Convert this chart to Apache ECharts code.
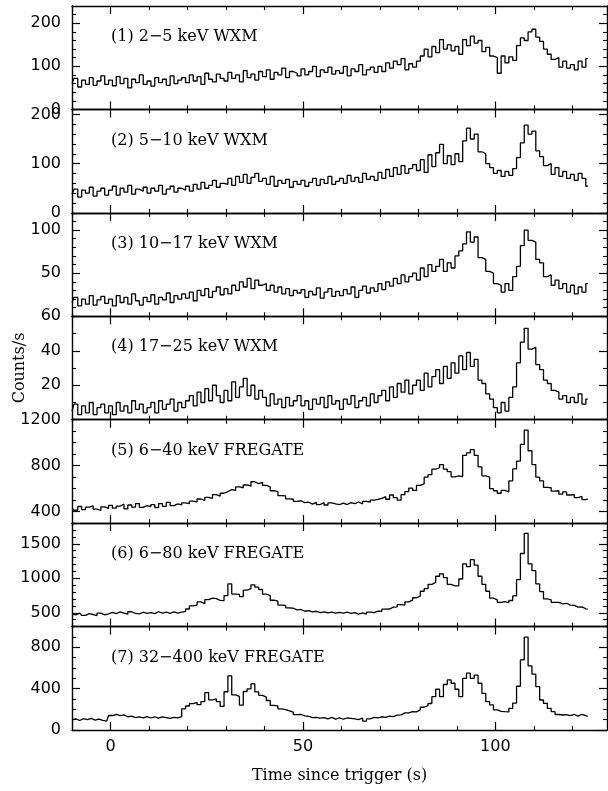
<!DOCTYPE html>
<html>
<head>
<meta charset="utf-8">
<script src="https://cdn.jsdelivr.net/npm/echarts@6/dist/echarts.min.js"></script>
<style>html,body{margin:0;padding:0;background:#fff}#c{width:608px;height:791px}</style>
</head>
<body>
<div id="c"></div>
<script>
// ---- data (1 s bins starting at t = -10 s) ----
const timeStart = -10;
const binWidth = 1;

const panelLabels = ['(1) 2\u22125 keV WXM', '(2) 5\u221210 keV WXM', '(3) 10\u221217 keV WXM', '(4) 17\u221225 keV WXM',
  '(5) 6\u221240 keV FREGATE', '(6) 6\u221280 keV FREGATE', '(7) 32\u2212400 keV FREGATE'];

const wxm2to5 = [
  60, 72, 52, 68, 58, 74, 56, 66, 78, 58,
  68, 55, 76, 60, 72, 50, 70, 62, 80, 58,
  66, 54, 74, 62, 70, 56, 78, 60, 68, 74,
  62, 80, 66, 76, 58, 84, 70, 64, 82, 72,
  66, 86, 72, 80, 64, 90, 74, 82, 68, 88,
  76, 92, 70, 86, 80, 96, 74, 88, 84, 78,
  94, 80, 88, 100, 76, 92, 86, 98, 82, 90,
  84, 100, 78, 94, 88, 104, 80, 92, 98, 86,
  100, 88, 108, 96, 112, 104, 118, 92, 106, 98,
  112, 124, 140, 122, 146, 132, 162, 140, 150, 136,
  146, 128, 162, 148, 170, 154, 160, 134, 144, 124,
  120, 84, 124, 108, 122, 114, 148, 166, 160, 180,
  186, 168, 158, 140, 128, 116, 120, 98, 112, 96,
  104, 92, 112, 98, 118
];
const wxm5to10 = [
  38, 48, 32, 46, 40, 52, 34, 44, 50, 36,
  46, 54, 36, 50, 42, 56, 38, 48, 44, 52,
  40, 50, 44, 56, 38, 48, 54, 42, 50, 46,
  54, 44, 58, 48, 62, 50, 56, 66, 52, 60,
  58, 70, 56, 74, 62, 78, 60, 72, 80, 64,
  70, 58, 74, 54, 66, 60, 68, 52, 64, 58,
  66, 54, 62, 70, 56, 68, 60, 74, 58, 64,
  70, 60, 76, 64, 72, 62, 80, 68, 74, 66,
  82, 70, 88, 74, 92, 78, 96, 80, 90, 98,
  86, 108, 82, 118, 94, 122, 139, 100, 116, 98,
  120, 104, 146, 172, 150, 160, 124, 120, 100, 92,
  80, 86, 74, 84, 76, 90, 112, 142, 178, 160,
  166, 126, 114, 96, 100, 78, 92, 74, 84, 70,
  78, 66, 80, 70, 54
];
const wxm10to17 = [
  16, 22, 12, 20, 14, 24, 13, 19, 23, 15,
  20, 12, 24, 16, 22, 14, 26, 18, 13, 22,
  17, 25, 14, 22, 19, 27, 16, 24, 20, 26,
  21, 28, 18, 30, 24, 32, 22, 29, 34, 25,
  32, 26, 36, 30, 40, 34, 44, 32, 42, 36,
  38, 30, 36, 28, 34, 26, 32, 24, 30, 27,
  31, 22, 29, 25, 33, 21, 28, 32, 23, 29,
  24, 31, 26, 34, 22, 30, 35, 27, 33, 29,
  38, 31, 40, 35, 44, 38, 48, 40, 46, 50,
  42, 56, 46, 60, 52, 58, 66, 52, 62, 56,
  70, 76, 84, 98, 86, 92, 68, 66, 52, 50,
  38, 36, 28, 38, 30, 46, 58, 82, 100, 88,
  86, 66, 62, 46, 48, 36, 42, 32, 38, 28,
  36, 26, 34, 28, 38
];
const wxm17to25 = [
  5, 9, 3, 8, 4, 10, 3, 7, 9, 4,
  8, 3, 10, 5, 8, 4, 11, 6, 9, 4,
  7, 10, 4, 11, 6, 9, 12, 5, 10, 7,
  11, 14, 8, 16, 10, 18, 11, 20, 14, 10,
  17, 11, 22, 13, 19, 24, 14, 20, 12, 17,
  13, 8, 15, 9, 12, 7, 13, 8, 11, 14,
  8, 11, 6, 12, 9, 13, 7, 14, 9, 11,
  6, 12, 9, 14, 7, 11, 13, 8, 15, 10,
  14, 17, 11, 19, 13, 21, 16, 23, 15, 20,
  23, 17, 27, 19, 25, 29, 21, 31, 24, 33,
  27, 37, 29, 39, 31, 35, 23, 21, 15, 12,
  7, 4, 10, 5, 13, 19, 33, 45, 53, 41,
  42, 32, 29, 23, 21, 17, 16, 12, 14, 10,
  13, 10, 15, 9, 12
];
const fregate6to40 = [
  430, 412, 445, 418, 440, 450, 422, 410, 442, 428,
  455, 430, 448, 465, 425, 458, 440, 470, 438, 452,
  444, 462, 436, 470, 446, 480, 452, 468, 458, 476,
  470, 492, 486, 510, 498, 525, 515, 548, 535, 560,
  575, 592, 585, 615, 608, 632, 622, 660, 644, 655,
  628, 615, 582, 575, 540, 538, 512, 508, 490, 495,
  478, 482, 465, 480, 462, 478, 458, 476, 468, 462,
  474, 462, 478, 470, 484, 468, 490, 482, 500, 506,
  515, 530, 508, 545, 522, 500, 548, 575, 605, 585,
  628, 642, 700, 722, 770, 782, 810, 770, 748, 702,
  712, 705, 890, 912, 940, 890, 790, 712, 700, 600,
  582, 560, 585, 572, 668, 772, 840, 985, 1110, 930,
  810, 700, 668, 612, 608, 578, 582, 552, 572, 545,
  548, 522, 532, 505, 512
];
const fregate6to80 = [
  482, 468, 495, 462, 488, 475, 460, 495, 470, 485,
  505, 488, 512, 494, 480, 515, 490, 485, 508, 492,
  502, 488, 515, 496, 508, 490, 514, 496, 510, 520,
  555, 600, 612, 658, 632, 690, 712, 705, 680, 676,
  750, 920, 772, 768, 735, 828, 850, 905, 872, 838,
  772, 748, 682, 668, 612, 606, 572, 566, 542, 548,
  522, 532, 512, 522, 502, 512, 498, 510, 496, 505,
  495, 508, 490, 502, 482, 498, 480, 510, 502, 525,
  522, 552, 555, 582, 585, 618, 612, 658, 684, 718,
  742, 812, 850, 912, 940, 1030, 1065, 1010, 912, 890,
  892, 990, 1210, 1170, 1270, 1190, 1030, 912, 812, 712,
  688, 652, 662, 648, 678, 745, 980, 1360, 1652, 1210,
  1110, 920, 808, 702, 688, 652, 650, 628, 638, 612,
  608, 582, 585, 558, 552
];
const fregate32to400 = [
  98, 108, 92, 110, 100, 112, 96, 106, 94, 86,
  140, 152, 138, 146, 128, 134, 120, 126, 118, 130,
  116, 128, 114, 126, 120, 112, 122, 118, 130, 205,
  232, 255, 268, 245, 275, 362, 292, 302, 275, 228,
  370, 523, 339, 325, 240, 372, 398, 445, 368, 335,
  318, 285, 238, 232, 205, 198, 185, 172, 148, 150,
  136, 132, 120, 122, 114, 120, 108, 122, 106, 118,
  104, 116, 112, 108, 100, 116, 85, 108, 122, 118,
  128, 122, 134, 130, 144, 146, 165, 166, 178, 176,
  194, 220, 236, 256, 322, 394, 322, 440, 484, 452,
  394, 322, 500, 549, 500, 530, 452, 355, 274, 242,
  194, 180, 177, 175, 210, 260, 423, 678, 897, 620,
  540, 420, 290, 258, 210, 177, 150, 145, 148, 140,
  150, 134, 152, 138, 132
];
const panelSeries = [wxm2to5, wxm5to10, wxm10to17, wxm17to25, fregate6to40, fregate6to80, fregate32to400];

// axis ranges and tick labels
const xMin = -10, xMax = 129;
const xMajorTicks = [0, 50, 100];
const xMinorStep = 10;
const yMins = [0, 0, 0, 0, 300, 300, 0];
const yMaxs = [240, 210, 120, 60, 1200, 1800, 1000];
const yMajorTicks = [[0, 100, 200], [0, 100, 200], [50, 100], [20, 40, 60], [400, 800, 1200], [500, 1000, 1500], [0, 400, 800]];
const yMinorSteps = [20, 20, 10, 10, 100, 100, 100];

// ---- layout ----
const plotLeft = 72, plotRight = 607, plotTop = 6, plotBottom = 730;
const nP = 7;
const pH = (plotBottom - plotTop) / nP;
const numFont = 'DejaVu Sans';
const txtFont = 'DejaVu Serif';
const plain = v => String(v);

function stepValues(min, max, step, exclude) {
  const out = [];
  for (let v = Math.ceil(min / step) * step; v <= max + 1e-9; v += step) {
    if (!exclude.some(e => Math.abs(e - v) < 1e-9)) out.push(v);
  }
  return out;
}
const xMinorTicks = stepValues(xMin, xMax, xMinorStep, xMajorTicks);

const grids = [], xAxes = [], yAxes = [], series = [], graphics = [];
const lineCol = '#000';
for (let g = 0; g < nP; g++) {
  const top = plotTop + g * pH;
  grids.push({ left: plotLeft, width: plotRight - plotLeft, top: top, height: pH, containLabel: false });
  const baseX = { type: 'value', gridIndex: g, min: xMin, max: xMax, splitLine: { show: false } };
  xAxes.push(Object.assign({}, baseX, {
    position: 'bottom',
    axisLine: { show: true, onZero: false, lineStyle: { color: lineCol, width: 1.4 } },
    axisTick: { show: true, inside: true, length: 8, customValues: xMajorTicks, lineStyle: { color: lineCol, width: 1.2 } },
    axisLabel: { show: g === nP - 1, customValues: xMajorTicks, formatter: plain, margin: 9, color: '#000', fontFamily: numFont, fontSize: 16 }
  }));
  xAxes.push(Object.assign({}, baseX, {
    position: 'bottom',
    axisLine: { show: false, onZero: false },
    axisTick: { show: true, inside: true, length: 4, customValues: xMinorTicks, lineStyle: { color: lineCol, width: 1.1 } },
    axisLabel: { show: false }
  }));
  xAxes.push(Object.assign({}, baseX, {
    position: 'top',
    axisLine: { show: true, onZero: false, lineStyle: { color: lineCol, width: 1.4 } },
    axisTick: { show: true, inside: true, length: 8, customValues: xMajorTicks, lineStyle: { color: lineCol, width: 1.2 } },
    axisLabel: { show: false }
  }));
  xAxes.push(Object.assign({}, baseX, {
    position: 'top',
    axisLine: { show: false, onZero: false },
    axisTick: { show: true, inside: true, length: 4, customValues: xMinorTicks, lineStyle: { color: lineCol, width: 1.1 } },
    axisLabel: { show: false }
  }));

  const yMinor = stepValues(yMins[g], yMaxs[g], yMinorSteps[g], yMajorTicks[g]);
  const baseY = { type: 'value', gridIndex: g, min: yMins[g], max: yMaxs[g], splitLine: { show: false } };
  yAxes.push(Object.assign({}, baseY, {
    position: 'left',
    axisLine: { show: true, onZero: false, lineStyle: { color: lineCol, width: 1.4 } },
    axisTick: { show: true, inside: true, length: 8, customValues: yMajorTicks[g], lineStyle: { color: lineCol, width: 1.2 } },
    axisLabel: { show: true, customValues: yMajorTicks[g], formatter: plain, margin: 11, color: '#000', fontFamily: numFont, fontSize: 16 }
  }));
  yAxes.push(Object.assign({}, baseY, {
    position: 'left',
    axisLine: { show: false, onZero: false },
    axisTick: { show: true, inside: true, length: 4, customValues: yMinor, lineStyle: { color: lineCol, width: 1.1 } },
    axisLabel: { show: false }
  }));
  yAxes.push(Object.assign({}, baseY, {
    position: 'right',
    axisLine: { show: true, onZero: false, lineStyle: { color: lineCol, width: 1.4 } },
    axisTick: { show: true, inside: true, length: 8, customValues: yMajorTicks[g], lineStyle: { color: lineCol, width: 1.2 } },
    axisLabel: { show: false }
  }));
  yAxes.push(Object.assign({}, baseY, {
    position: 'right',
    axisLine: { show: false, onZero: false },
    axisTick: { show: true, inside: true, length: 4, customValues: yMinor, lineStyle: { color: lineCol, width: 1.1 } },
    axisLabel: { show: false }
  }));

  series.push({
    type: 'line', step: 'middle', symbol: 'none', silent: true, animation: false,
    xAxisIndex: 4 * g, yAxisIndex: 4 * g, clip: true,
    lineStyle: { color: '#000', width: 1.3 },
    data: panelSeries[g].map((v, i) => [timeStart + i * binWidth, v])
  });

  graphics.push({
    type: 'text', left: 111, top: top + 32 - 9,
    style: { text: panelLabels[g], fill: '#000', font: '16px "' + txtFont + '"' }
  });
}

graphics.push({
  type: 'text', x: 20, y: (plotTop + plotBottom) / 2, rotation: Math.PI / 2,
  style: { text: 'Counts/s', fill: '#000', font: '16px "' + txtFont + '"', textAlign: 'center', textVerticalAlign: 'middle' }
});
graphics.push({
  type: 'text', x: (plotLeft + plotRight) / 2, y: 776,
  style: { text: 'Time since trigger (s)', fill: '#000', font: '16px "' + txtFont + '"', textAlign: 'center', textVerticalAlign: 'middle' }
});

const chart = echarts.init(document.getElementById('c'), null, { renderer: 'canvas' });
chart.setOption({
  animation: false,
  backgroundColor: '#fff',
  grid: grids,
  xAxis: xAxes,
  yAxis: yAxes,
  series: series,
  graphic: graphics
});
</script>
</body>
</html>
